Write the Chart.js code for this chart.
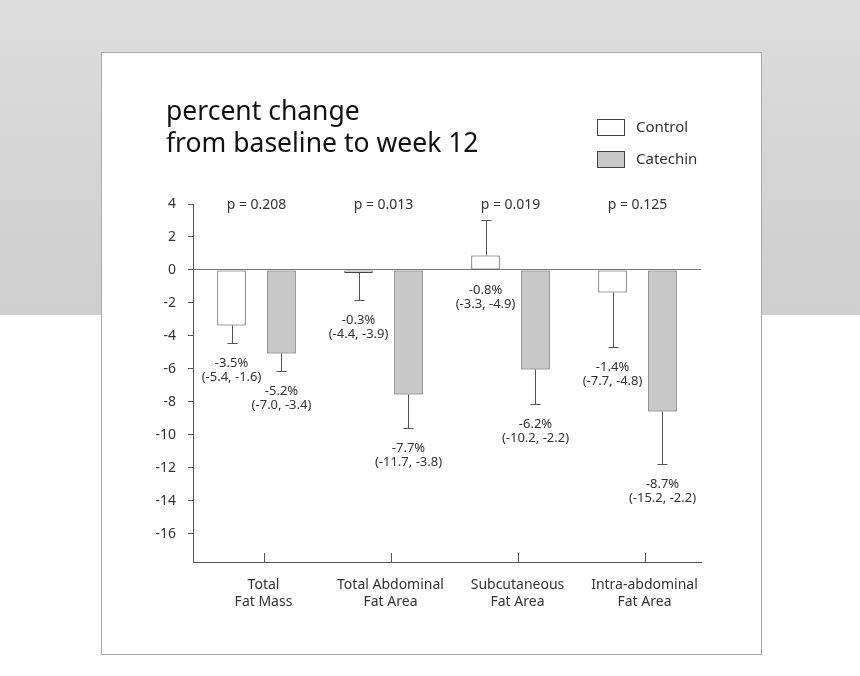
<!DOCTYPE html>
<html>
<head>
<meta charset="utf-8">
<script src="https://cdn.jsdelivr.net/npm/chart.js@4"></script>
<style>
  html, body { margin: 0; padding: 0; }
  body {
    width: 860px; height: 676px; position: relative; overflow: hidden;
    background: linear-gradient(to bottom, #dddddd 0px, #cecece 315px, #ffffff 315px);
    font-family: "Noto Sans", sans-serif;
  }
  #card {
    position: absolute; left: 101px; top: 52px; width: 659px; height: 601px;
    background: #fff; border: 1px solid #aaaaaa;
  }
  #bars { position: absolute; left: 0; top: 0; }
</style>
</head>
<body>
<div id="card"></div>
<canvas id="bars" width="860" height="676"></canvas>
<script>
// categories and values
const categories = [["Total", "Fat Mass"], ["Total Abdominal", "Fat Area"], ["Subcutaneous", "Fat Area"], ["Intra-abdominal", "Fat Area"]];
const controlMean = [-3.36, -0.18, 0.88, -1.36];
const catechinMean = [-5.06, -7.55, -6.03, -8.58];
// ends of the error whiskers
const controlWhisker = [-4.4, -1.8, 3.0, -4.64];
const catechinWhisker = [-6.1, -9.55, -8.1, -11.73];
// annotation texts under each bar
const controlNotes = [["-3.5%", "(-5.4, -1.6)"], ["-0.3%", "(-4.4, -3.9)"], ["-0.8%", "(-3.3, -4.9)"], ["-1.4%", "(-7.7, -4.8)"]];
const catechinNotes = [["-5.2%", "(-7.0, -3.4)"], ["-7.7%", "(-11.7, -3.8)"], ["-6.2%", "(-10.2, -2.2)"], ["-8.7%", "(-15.2, -2.2)"]];
const pValues = ["p = 0.208", "p = 0.013", "p = 0.019", "p = 0.125"];
const yTicks = [4, 2, 0, -2, -4, -6, -8, -10, -12, -14, -16];

const FONT = '"Noto Sans", sans-serif';
const TEXT = "#333";
const LINE = "#555";

// whiskers, notes, p-values, title and legend
const extras = {
    id: "extras",
    afterDatasetsDraw(chart) {
        const ctx = chart.ctx;
        const y = chart.scales.y;
        const x = chart.scales.x;
        const area = chart.chartArea;
        ctx.save();
        ctx.strokeStyle = LINE;
        ctx.lineWidth = 1;
        const whiskers = [controlWhisker, catechinWhisker];
        const notes = [controlNotes, catechinNotes];
        [0, 1].forEach(d => {
            chart.getDatasetMeta(d).data.forEach((bar, i) => {
                const px = Math.round(bar.x) + 0.5;
                const mean = chart.data.datasets[d].data[i];
                const y0 = y.getPixelForValue(mean);
                const y1 = Math.round(y.getPixelForValue(whiskers[d][i])) + 0.5;
                ctx.beginPath();
                ctx.moveTo(px, y0);
                ctx.lineTo(px, y1);
                ctx.moveTo(px - 5, y1);
                ctx.lineTo(px + 5, y1);
                ctx.stroke();
                // note text below the lowest point
                const low = Math.max(y1, y.getPixelForValue(0));
                ctx.fillStyle = TEXT;
                ctx.font = "13px " + FONT;
                ctx.textAlign = "center";
                ctx.textBaseline = "middle";
                ctx.fillText(notes[d][i][0], bar.x, low + 20);
                ctx.fillText(notes[d][i][1], bar.x, low + 34);
            });
        });
        // upward tick marks on the x axis
        categories.forEach((c, i) => {
            const px = Math.round(x.getPixelForValue(i) + 7) + 0.5;
            ctx.beginPath();
            ctx.moveTo(px, area.bottom);
            ctx.lineTo(px, area.bottom - 9);
            ctx.stroke();
        });
        // p-values
        ctx.fillStyle = TEXT;
        ctx.font = "14px " + FONT;
        ctx.textAlign = "center";
        ctx.textBaseline = "middle";
        pValues.forEach((p, i) => {
            ctx.fillText(p, x.getPixelForValue(i), y.getPixelForValue(4) + 1);
        });
        // title
        ctx.fillStyle = "#111";
        ctx.font = "26.5px " + FONT;
        ctx.textAlign = "left";
        ctx.textBaseline = "alphabetic";
        ctx.fillText("percent change", 166, 120);
        ctx.fillText("from baseline to week 12", 166, 152);
        // legend
        const legend = [["Control", "#ffffff"], ["Catechin", "#c8c8c8"]];
        ctx.font = "15px " + FONT;
        ctx.textBaseline = "middle";
        legend.forEach((l, i) => {
            const top = 119.5 + i * 32;
            ctx.fillStyle = l[1];
            ctx.fillRect(597.5, top, 27, 16);
            ctx.strokeStyle = "#444";
            ctx.strokeRect(597.5, top, 27, 16);
            ctx.fillStyle = TEXT;
            ctx.fillText(l[0], 636, top + 8);
        });
        ctx.restore();
    }
};

const barConfig = {
    type: "bar",
    data: {
        labels: categories,
        datasets: [
            {
                label: "Control",
                backgroundColor: "#ffffff",
                borderColor: "#444",
                borderWidth: 1,
                borderSkipped: false,
                data: controlMean,
            },
            {
                label: "Catechin",
                backgroundColor: "#c8c8c8",
                borderColor: "#444",
                borderWidth: 1,
                borderSkipped: false,
                data: catechinMean,
            },
        ],
    },
    options: {
        responsive: false,
        animation: false,
        devicePixelRatio: 1,
        categoryPercentage: 0.787,
        barPercentage: 0.57,
        layout: { padding: { top: 204, right: 159, left: 0, bottom: 0 } },
        plugins: {
            legend: { display: false },
            tooltip: { enabled: false },
        },
        scales: {
            x: {
                grid: { display: false },
                border: { color: LINE, width: 1 },
                afterFit: s => { s.height = 114; },
                ticks: {
                    color: TEXT,
                    font: { family: FONT, size: 14 },
                    padding: 7,
                    labelOffset: 7,
                    maxRotation: 0,
                    autoSkip: false,
                },
            },
            y: {
                min: -17.7,
                max: 4,
                afterFit: s => { s.width = 193; },
                afterBuildTicks: s => { s.ticks = yTicks.map(v => ({ value: v })); },
                border: { color: LINE, width: 1 },
                grid: {
                    color: c => (c.tick && c.tick.value === 0 ? "#777" : "transparent"),
                    tickColor: LINE,
                    tickLength: 5,
                },
                ticks: {
                    color: TEXT,
                    font: { family: FONT, size: 14 },
                    padding: 12,
                },
            },
        },
    },
    plugins: [extras],
};

const barsCtx = document.getElementById("bars");
window.myBar = new Chart(barsCtx, barConfig);
</script>
</body>
</html>
